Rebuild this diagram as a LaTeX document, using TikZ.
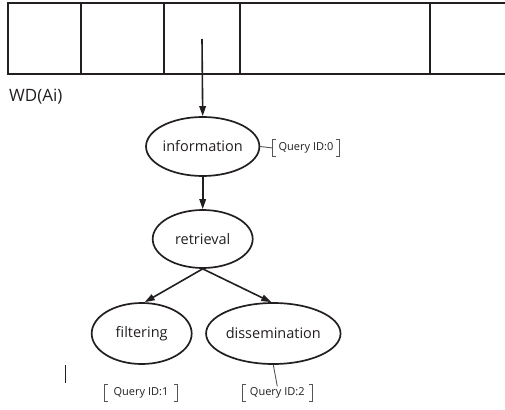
\documentclass[tikz,border=0pt]{standalone}
\usepackage{fontspec}
\setmainfont{Open Sans}
\usetikzlibrary{arrows.meta,shapes.geometric}
\definecolor{ink}{HTML}{231F20}
\definecolor{qgray}{HTML}{555555}
\tikzset{
  cell/.style={draw=ink, line width=2pt},
  term/.style={ellipse, draw=ink, line width=1.7pt, inner sep=0pt, font=\fontsize{14.5}{16}\selectfont, text=ink},
  flow/.style={draw=ink, line width=1.6pt, -{Triangle[length=10pt,width=6.5pt]}},
  qlabel/.style={inner sep=0pt, minimum height=17pt, font=\fontsize{11}{13}\selectfont, text=ink},
  brk/.style={draw=qgray, line width=0.8pt},
  tie/.style={draw=qgray, line width=0.9pt},
}
\begin{document}
\begin{tikzpicture}[x=1pt,y=-1pt]
\useasboundingbox (0,0) rectangle (505,409);
% top array
\draw[cell] (505,3) -- (8,3) -- (8,74) -- (505,74);
\foreach \x in {81,164,240,430} \draw[cell] (\x,3) -- (\x,74);
\node[anchor=west, font=\fontsize{17}{19}\selectfont, text=ink, inner sep=0pt] (wd) at (9,97) {WD(Ai)};
% nodes
\node[term, minimum width=100pt, minimum height=59pt] (info) at (202.7,146.5) {information};
\node[term, minimum width=100pt, minimum height=58pt] (ret) at (202.7,239) {retrieval};
\node[term, minimum width=100pt, minimum height=61pt] (filt) at (141.7,333.5) {filtering};
\node[term, minimum width=106pt, minimum height=61pt] (diss) at (273.3,333.5) {dissemination};
\coordinate (src) at (202,39);
% connectors
\draw[flow] (src) -- (info.north);
\draw[flow] (info.south) -- (ret.north);
\draw[flow] (ret.south) -- ([xshift=3pt]filt.north);
\draw[flow] (ret.south) -- ([xshift=-2pt]diss.north);
% query labels
\node[qlabel, minimum width=66pt] (q0) at (306,148) {Query ID:0};
\node[qlabel, minimum width=72pt] (q1) at (141,393) {Query ID:1};
\node[qlabel, minimum width=69pt] (q2) at (277.3,393) {Query ID:2};
\foreach \q in {q0,q1,q2}{
  \draw[brk] ([xshift=3pt]\q.north west) -- (\q.north west) -- (\q.south west) -- ([xshift=3pt]\q.south west);
  \draw[brk] ([xshift=-3pt]\q.north east) -- (\q.north east) -- (\q.south east) -- ([xshift=-3pt]\q.south east);
}
\draw[tie] (info.east) -- (q0.west);
\draw[tie] (diss.south) -- ([yshift=-2pt]q2.north);
% stray mark
\coordinate (m1) at (65.7,365);
\coordinate (m2) at (65.7,383);
\draw[ink, line width=1.2pt] (m1) -- (m2);
\end{tikzpicture}
\end{document}
